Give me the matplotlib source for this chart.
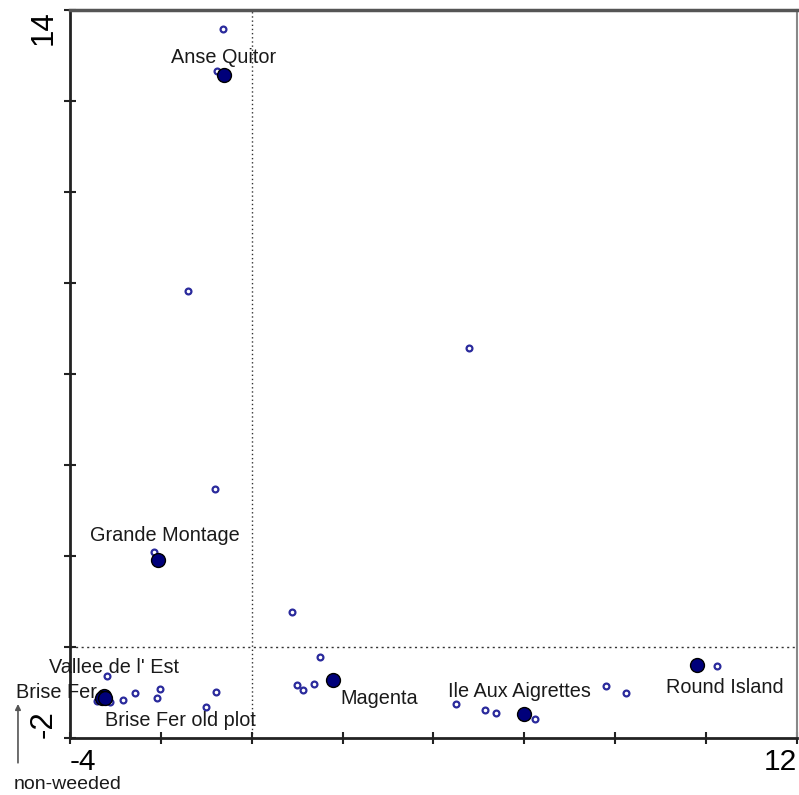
import matplotlib
matplotlib.use('Agg')
import matplotlib.pyplot as plt

plt.rcParams['font.family'] = ['Liberation Sans', 'DejaVu Sans']

# site centroids (large dots)
site_names = ["Anse Quitor", "Grande Montage", "Vallee de l' Est", "Brise Fer",
              "Brise Fer old plot", "Magenta", "Ile Aux Aigrettes", "Round Island"]
site_x = [-0.61, -2.06, -3.25, -3.29, -3.23, 1.79, 5.99, 9.80]
site_y = [12.57, 1.91, -1.07, -1.12, -1.13, -0.73, -1.47, -0.40]

# individual plots (small open circles)
plot_x = [-0.63, -0.76, -1.40, 4.78, -0.81, -2.15, 0.89, 1.50, 1.00, 1.13, 1.37,
          -3.19, -3.12, -3.41, -2.83, -2.58, -2.09, -2.02, -0.79, -1.00,
          4.49, 5.14, 5.37, 6.23, 7.79, 8.24, 10.23]
plot_y = [13.58, 12.66, 7.82, 6.57, 3.47, 2.09, 0.77, -0.22, -0.84, -0.95, -0.81,
          -0.63, -1.20, -1.19, -1.16, -1.01, -1.11, -0.92, -1.00, -1.32,
          -1.26, -1.39, -1.44, -1.59, -0.86, -1.01, -0.42]

x_ticks = [-4, -2, 0, 2, 4, 6, 8, 10, 12]
y_ticks = [-2, 0, 2, 4, 6, 8, 10, 12, 14]

NAVY = '#00007a'
BLUE = '#2a2a9c'
TEXT = '#1a1a1a'

fig = plt.figure(figsize=(7.99, 7.95), dpi=100)
ax = fig.add_axes([0.0876, 0.0717, 0.9099, 0.9157])
ax.set_xlim(-4, 12)
ax.set_ylim(-2, 14)

# reference lines through origin
ax.axvline(0, color='#333333', lw=1, ls=(0, (1, 2)), zorder=1)
ax.axhline(0, color='#333333', lw=1, ls=(0, (1.5, 2.5)), zorder=1)

ax.plot(plot_x, plot_y, 'o', ms=4.2, mfc='white', mec=BLUE, mew=1.6,
        zorder=3, ls='none')
ax.plot(site_x, site_y, 'o', ms=10, mfc=NAVY, mec='black', mew=1,
        zorder=4, ls='none')

# label placement, offsets in points from the site dot
label_pos = {
    "Anse Quitor": ((0, 13), 'center'),
    "Grande Montage": ((5, 18), 'center'),
    "Vallee de l' Est": ((7, 20), 'center'),
    "Brise Fer": ((-4, 4), 'right'),
    "Brise Fer old plot": ((0, -16), 'left'),
    "Magenta": ((5, -13), 'left'),
    "Ile Aux Aigrettes": ((-3, 16), 'center'),
    "Round Island": ((20, -16), 'center'),
}
for name, x, y in zip(site_names, site_x, site_y):
    off, ha = label_pos[name]
    ax.annotate(name, (x, y), xytext=off, textcoords='offset points',
                ha=ha, va='center', fontsize=14.3, color=TEXT, zorder=5)

# ticks: only end values labelled
ax.set_xticks(x_ticks)
ax.set_xticklabels([str(x_ticks[0])] + [''] * (len(x_ticks) - 2) + [str(x_ticks[-1])])
ax.set_yticks(y_ticks)
ax.set_yticklabels([str(y_ticks[0])] + [''] * (len(y_ticks) - 2) + [str(y_ticks[-1])])
ax.tick_params(direction='inout', length=9, width=1.5, labelsize=22.5,
               color='#222222')
ax.tick_params(axis='x', pad=3, labelsize=21.5)
ax.tick_params(axis='y', pad=4)
xl = ax.get_xticklabels()
xl[0].set_ha('left')
xl[-1].set_ha('right')
yl = ax.get_yticklabels()
for t in yl:
    t.set_rotation(90)
yl[0].set_va('bottom')
yl[-1].set_va('top')

for side in ['left', 'bottom']:
    ax.spines[side].set_color('#222222')
    ax.spines[side].set_linewidth(2)
ax.spines['top'].set_color('#555555')
ax.spines['top'].set_linewidth(2.5)
ax.spines['right'].set_color('#888888')
ax.spines['right'].set_linewidth(1.5)

# direction hint below the axis
fig.text(0.085, 0.002, 'non-weeded', ha='center', va='bottom',
         fontsize=14, color=TEXT)
ax.annotate('', xy=(0.0225, 0.118), xytext=(0.0225, 0.037),
            xycoords='figure fraction', textcoords='figure fraction',
            arrowprops=dict(arrowstyle='-|>', color='#555555', lw=1.2,
                            mutation_scale=8), annotation_clip=False)

fig.savefig('out.png', dpi=100, facecolor='white')
